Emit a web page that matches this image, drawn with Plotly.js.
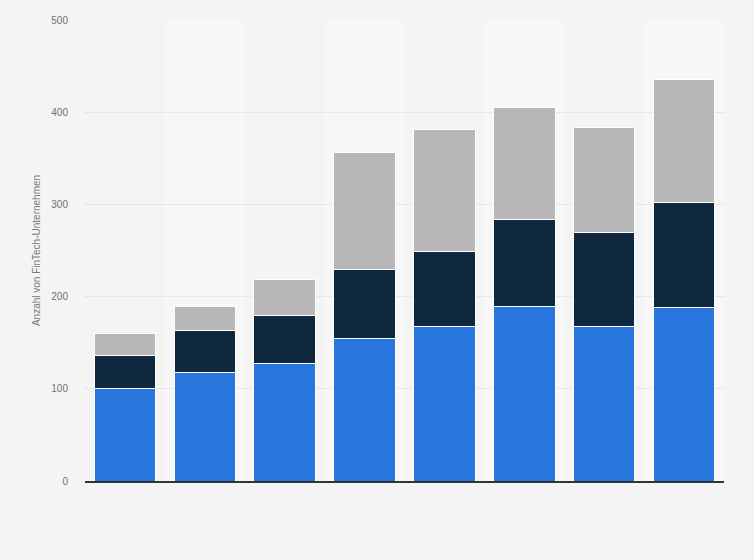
<!DOCTYPE html>
<html>
<head>
<meta charset="utf-8">
<script src="https://cdn.plot.ly/plotly-3.0.1.min.js"></script>
<style>
  html, body { margin: 0; padding: 0; background: #f4f4f4; }
  #chart { width: 754px; height: 560px; }
</style>
</head>
<body>
<div id="chart"></div>
<script>
    // values
    var categories = ['2012', '2013', '2014', '2015', '2016', '2017', '2018', '2019'];
    var seriesA = [100, 118, 127, 155, 168, 189, 168, 188];
    var seriesB = [36, 45, 52, 74, 81, 95, 102, 114];
    var seriesC = [24, 26, 40, 127, 132, 121, 113, 134];
    var yTicks = [0, 100, 200, 300, 400, 500];

    function bars(name, values, color) {
        return {
            type: 'bar',
            name: name,
            x: categories,
            y: values,
            marker: {color: color, line: {color: '#ffffff', width: 1}},
            hoverinfo: 'y'
        };
    }

    var data = [
        bars('Kategorie 1', seriesA, '#2876dd'),
        bars('Kategorie 2', seriesB, '#0f283e'),
        bars('Kategorie 3', seriesC, '#b7b7b7')
    ];

    // lighter background band behind every second category
    var shapes = [];
    categories.forEach(function (c, i) {
        if (i % 2 === 1) {
            shapes.push({
                type: 'rect', xref: 'x', yref: 'paper', layer: 'below',
                x0: i - 0.5, x1: i + 0.5, y0: 0, y1: 1,
                fillcolor: '#f7f7f7', line: {width: 0}
            });
        }
    });

    var layout = {
        width: 754,
        height: 560,
        barmode: 'stack',
        bargap: 0.23,
        showlegend: false,
        paper_bgcolor: '#f4f4f4',
        plot_bgcolor: '#f4f4f4',
        margin: {t: 20, r: 30, l: 85, b: 79},
        font: {family: 'Liberation Sans, Arial, sans-serif', size: 10, color: '#666666'},
        shapes: shapes,
        xaxis: {
            type: 'category',
            showticklabels: false,
            showgrid: false,
            zeroline: false,
            showline: true,
            linecolor: '#333333',
            linewidth: 1.5,
            ticks: ''
        },
        yaxis: {
            range: [0, 500],
            tickvals: yTicks,
            showgrid: true,
            gridcolor: '#dadada',
            griddash: '1px,1px',
            gridwidth: 1,
            zeroline: false,
            ticks: '',
            ticklabelstandoff: 16,
            tickfont: {size: 10, color: '#707070'},
            title: {text: 'Anzahl von FinTech-Unternehmen', font: {size: 10, color: '#7a7a7a'}, standoff: 8}
        }
    };

    Plotly.newPlot('chart', data, layout, {displayModeBar: false});
</script>
</body>
</html>
